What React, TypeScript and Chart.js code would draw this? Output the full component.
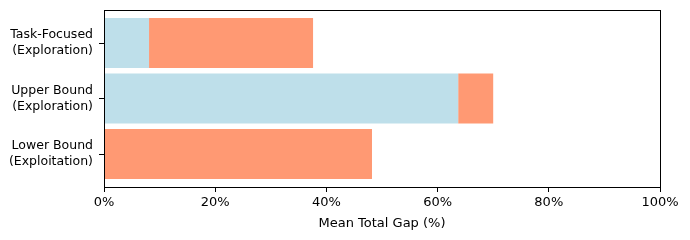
import React, { useEffect, useRef } from "react";
import { Chart, registerables } from "chart.js";

Chart.register(...registerables);

const categories: string[][] = [
  ["Task-Focused", "(Exploration)"],
  ["Upper Bound", "(Exploration)"],
  ["Lower Bound", "(Exploitation)"],
];
const explorationGap = [8.1, 63.7, 0];
const exploitationGap = [29.5, 6.3, 48.2];
const xTicks = [0, 20, 40, 60, 80, 100];

const FONT = "'DejaVu Sans', sans-serif";
const BAR_H = 0.9;
const MARGIN = 0.05 * (categories.length - 1 + BAR_H);

const frame = {
  id: "frame",
  afterDatasetsDraw(chart: any) {
    const { ctx, chartArea: a } = chart;
    const y = chart.scales.y;
    ctx.save();
    ctx.strokeStyle = "#000";
    ctx.lineWidth = 1;
    ctx.strokeRect(Math.round(a.left) + 0.5, Math.round(a.top) + 0.5, Math.round(a.right - a.left), Math.round(a.bottom - a.top));
    ctx.beginPath();
    for (let i = 0; i < y.ticks.length; i++) {
      const py = Math.round(y.getPixelForValue(y.ticks[i].value)) + 0.5;
      ctx.moveTo(Math.round(a.left) - 5, py);
      ctx.lineTo(Math.round(a.left), py);
    }
    ctx.stroke();
    ctx.restore();
  },
};

export default function App() {
  const ref = useRef<HTMLCanvasElement | null>(null);
  useEffect(() => {
    document.body.style.margin = "0";
    const chart = new Chart(ref.current!, {
      type: "bar",
      data: {
        datasets: [
          {
            label: "Exploration",
            data: explorationGap.map((v, i) => ({ x: v, y: i })),
            backgroundColor: "rgb(190,223,234)",
            barPercentage: BAR_H,
            categoryPercentage: 1,
          },
          {
            label: "Exploitation",
            data: exploitationGap.map((v, i) => ({ x: v, y: i })),
            backgroundColor: "rgb(255,153,115)",
            barPercentage: BAR_H,
            categoryPercentage: 1,
          },
        ],
      },
      options: {
        indexAxis: "y",
        animation: false,
        responsive: false,
        maintainAspectRatio: false,
        layout: { padding: { top: 10, right: 30, left: 0, bottom: 0 } },
        plugins: { legend: { display: false }, tooltip: { enabled: false } },
        scales: {
          x: {
            type: "linear",
            stacked: true,
            min: 0,
            max: 100,
            afterBuildTicks: (s: any) => {
              s.ticks = xTicks.map((v) => ({ value: v }));
            },
            afterFit: (s: any) => {
              s.height = 53;
              s.paddingLeft = 0;
              s.paddingRight = 0;
            },
            ticks: {
              color: "#000",
              font: { family: FONT, size: 13 },
              padding: 3,
              maxRotation: 0,
              callback: (v: any) => v + "%",
            },
            grid: { drawOnChartArea: false, drawTicks: true, tickLength: 5, tickColor: "#000" },
            border: { display: false },
            title: {
              display: true,
              text: "Mean Total Gap (%)",
              color: "#000",
              font: { family: FONT, size: 13 },
              padding: { top: 2, bottom: 9 },
            },
          },
          y: {
            type: "linear",
            stacked: true,
            reverse: true,
            offset: false,
            min: -BAR_H / 2 - MARGIN,
            max: categories.length - 1 + BAR_H / 2 + MARGIN,
            afterBuildTicks: (s: any) => {
              s.ticks = categories.map((_, i) => ({ value: i }));
            },
            afterFit: (s: any) => {
              s.width = 104;
              s.paddingTop = 0;
              s.paddingBottom = 0;
            },
            ticks: {
              color: "#000",
              font: { family: FONT, size: 12.5, lineHeight: 1.25 },
              padding: 3,
              callback: (v: any) => categories[Math.round(v)] ?? "",
            },
            grid: { display: false },
            border: { display: false },
          },
        },
      },
      plugins: [frame],
    });
    return () => chart.destroy();
  }, []);
  return (
    <div style={{ position: "absolute", left: 0, top: 0, width: 690, height: 240 }}>
      <canvas ref={ref} width={690} height={240} style={{ width: 690, height: 240 }} />
    </div>
  );
}
